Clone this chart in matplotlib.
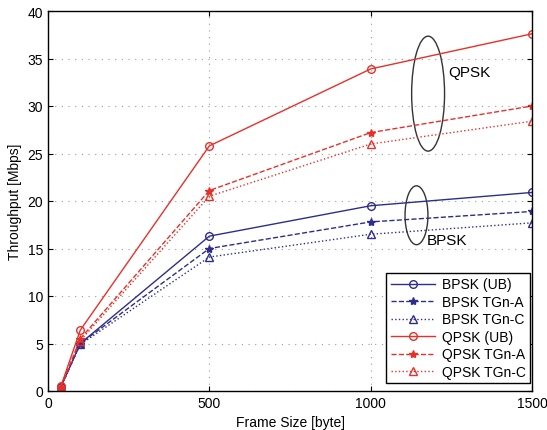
import matplotlib
matplotlib.use("Agg")
import matplotlib.pyplot as plt
from matplotlib.patches import Ellipse

plt.rcParams['font.family'] = ['Liberation Sans', 'DejaVu Sans']

frame_size = [40, 100, 500, 1000, 1500]
bpsk_ub = [0.45, 5.0, 16.3, 19.5, 20.9]
bpsk_a = [0.42, 5.0, 15.0, 17.8, 18.9]
bpsk_c = [0.40, 4.9, 14.1, 16.5, 17.7]
qpsk_ub = [0.50, 6.4, 25.8, 33.9, 37.6]
qpsk_a = [0.45, 5.5, 21.1, 27.2, 30.0]
qpsk_c = [0.42, 5.3, 20.5, 26.0, 28.4]
xticks = [0, 500, 1000, 1500]
yticks = [0, 5, 10, 15, 20, 25, 30, 35, 40]

blue = '#2e2e8a'
red = '#e8302a'

fig = plt.figure(figsize=(5.47, 4.31), dpi=100)
ax = fig.add_axes([48/547, 1-392/431, 484/547, 380/431])

ax.plot(frame_size, bpsk_ub, '-', color=blue, marker='o', mfc='none', ms=5.5, lw=1, label='BPSK (UB)')
ax.plot(frame_size, bpsk_a, '--', color=blue, marker='*', ms=6, lw=1, label='BPSK TGn-A')
ax.plot(frame_size, bpsk_c, ':', color=blue, marker='^', mfc='none', ms=5.5, lw=1, label='BPSK TGn-C')
ax.plot(frame_size, qpsk_ub, '-', color=red, marker='o', mfc='none', ms=5.5, lw=1, label='QPSK (UB)')
ax.plot(frame_size, qpsk_a, '--', color=red, marker='*', ms=6, lw=1, label='QPSK TGn-A')
ax.plot(frame_size, qpsk_c, ':', color=red, marker='^', mfc='none', ms=5.5, lw=1, label='QPSK TGn-C')

ax.add_patch(Ellipse((1178, 31.3), 102, 12.1, fill=False, ec='#333333', lw=1))
ax.add_patch(Ellipse((1142, 18.5), 71, 6.2, fill=False, ec='#333333', lw=1))
ax.text(1240, 33.6, 'QPSK', fontsize=11, va='center', ha='left')
ax.text(1175, 15.9, 'BPSK', fontsize=11, va='center', ha='left')

ax.set_xlim(0, 1500)
ax.set_ylim(0, 40)
ax.set_xticks(xticks)
ax.set_yticks(yticks)
ax.tick_params(direction='in', top=True, right=True, labelsize=10)
ax.grid(True, linestyle=(0, (1, 5)), color='#999999', lw=0.8)
ax.set_xlabel('Frame Size [byte]', fontsize=10)
ax.set_ylabel('Throughput [Mbps]', fontsize=10)
for s in ax.spines.values():
    s.set_linewidth(1)

ax.legend(loc='lower right', fontsize=10, fancybox=False, edgecolor='black',
          framealpha=1, handlelength=3.2, borderpad=0.3, labelspacing=0.25,
          handletextpad=0.5, borderaxespad=0, bbox_to_anchor=(0.996, 0.021))

fig.savefig('out.png', dpi=100)
